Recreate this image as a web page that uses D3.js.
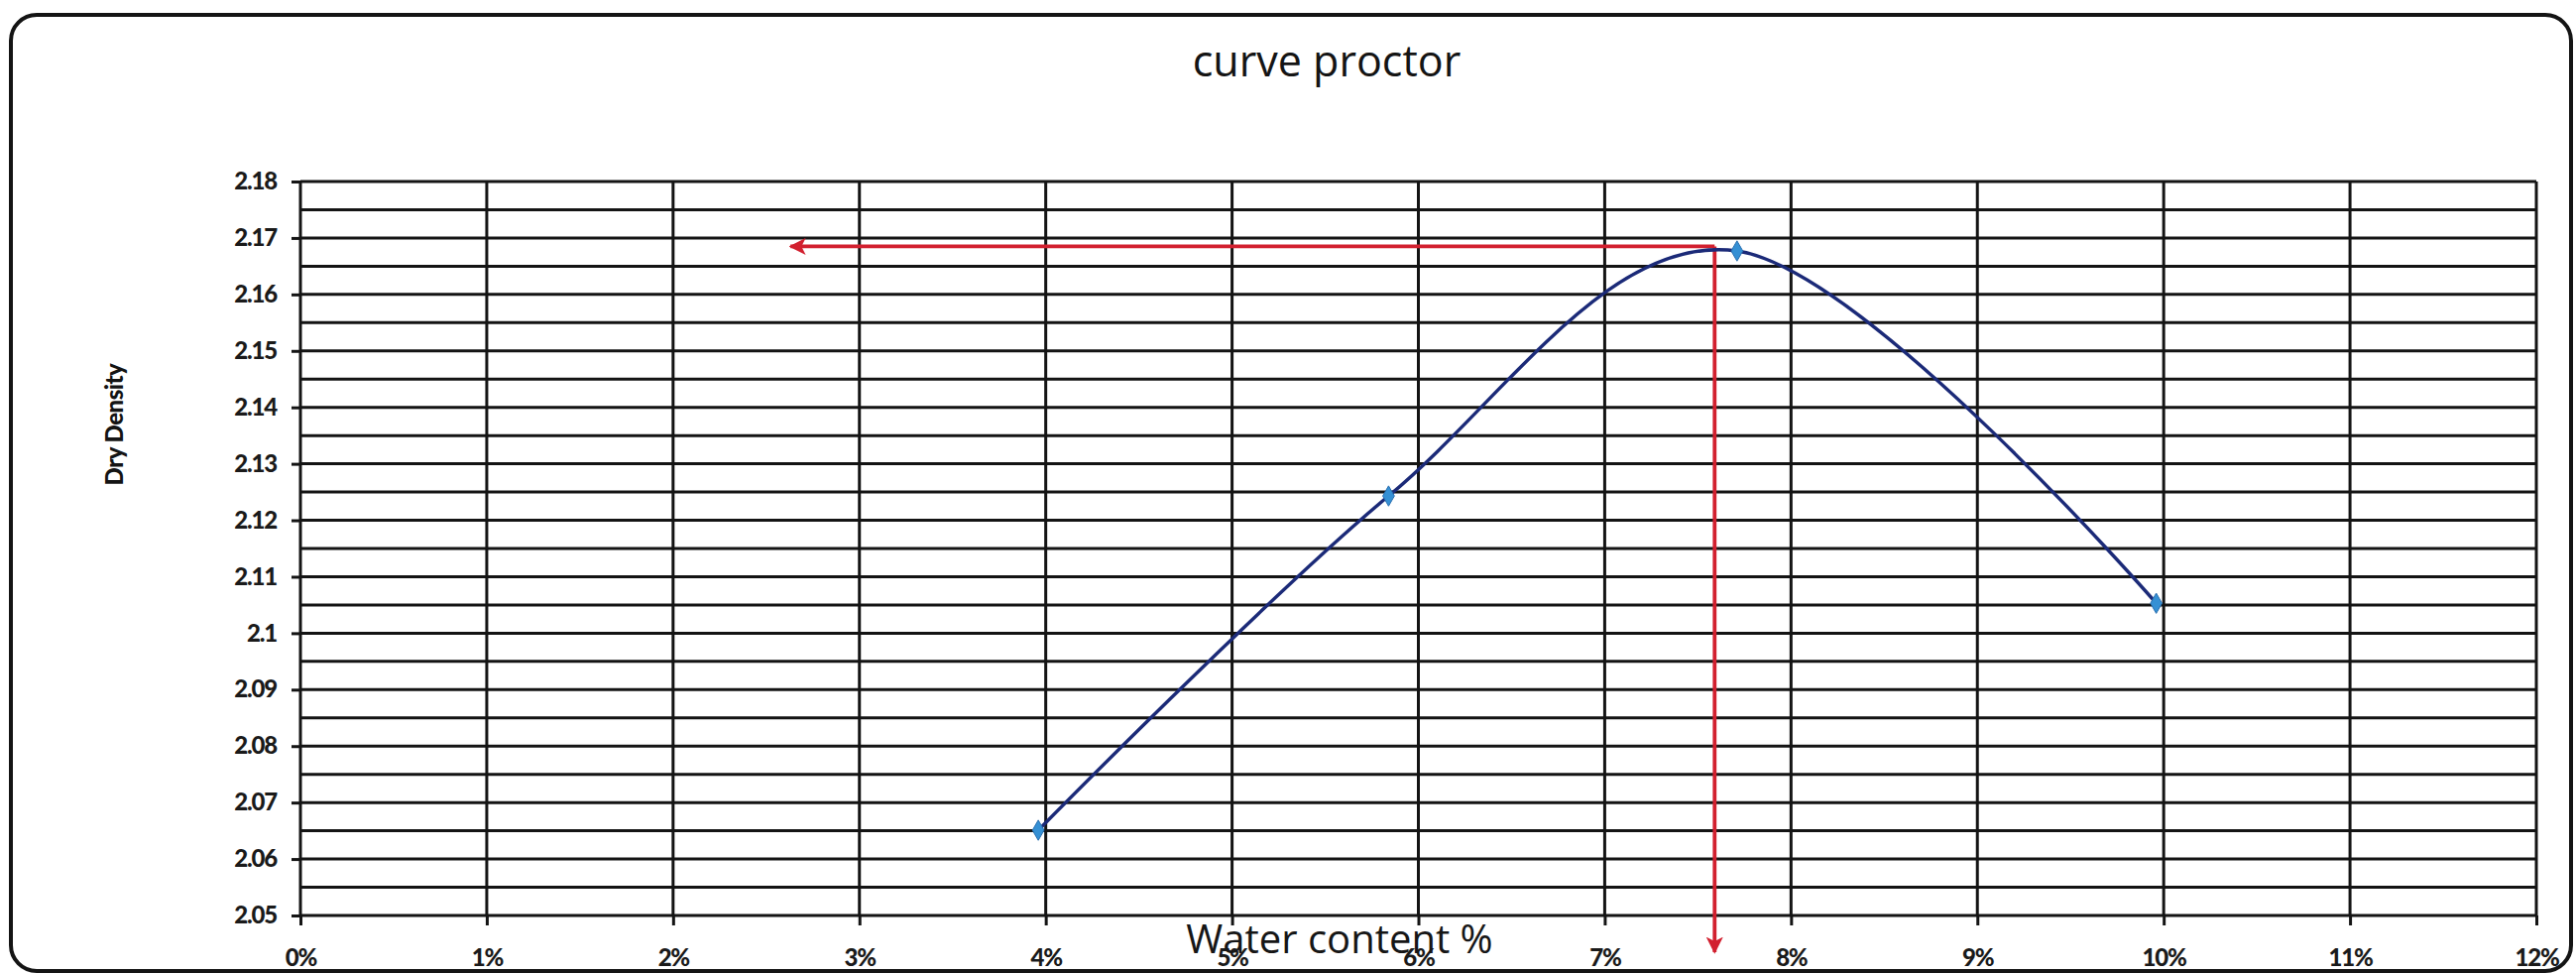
<!DOCTYPE html>
<html>
<head>
<meta charset="utf-8">
<script src="https://cdn.jsdelivr.net/npm/d3@7/dist/d3.min.js"></script>
<style>
  html, body { margin: 0; padding: 0; background: #fff; }
  svg { display: block; }
</style>
</head>
<body>
<svg id="chart" width="2598" height="982"></svg>
<script>
// ---- data ----
const waterContent = [3.96, 5.84, 7.71, 9.96];          // %
const dryDensity   = [2.0651, 2.1243, 2.1677, 2.1053];   // g/cm3
const xTickValues  = [0, 1, 2, 3, 4, 5, 6, 7, 8, 9, 10, 11, 12];
const xTickLabels  = ["0%","1%","2%","3%","4%","5%","6%","7%","8%","9%","10%","11%","12%"];
const yTickValues  = [2.05, 2.06, 2.07, 2.08, 2.09, 2.10, 2.11, 2.12, 2.13, 2.14, 2.15, 2.16, 2.17, 2.18];
const yTickLabels  = ["2.05","2.06","2.07","2.08","2.09","2.1","2.11","2.12","2.13","2.14","2.15","2.16","2.17","2.18"];
const yMinorValues = [2.055, 2.065, 2.075, 2.085, 2.095, 2.105, 2.115, 2.125, 2.135, 2.145, 2.155, 2.165, 2.175];
// optimum read-off annotation (red arrows)
const optimumWater   = 7.59;
const optimumDensity = 2.1685;
const arrowLeftEnd   = 2.63;    // % (tip of horizontal arrow)
const arrowBottomEnd = 2.0435;  // density (tip of vertical arrow)

const titleText  = "curve proctor";
const xAxisTitle = "Water content %";
const yAxisTitle = "Dry Density";

// ---- layout ----
const svg = d3.select("#chart");
const plot = { left: 303, right: 2558, top: 183, bottom: 923 };

const x = d3.scaleLinear().domain([0, 12]).range([plot.left, plot.right]);
const y = d3.scaleLinear().domain([2.05, 2.18]).range([plot.bottom, plot.top]);

// outer rounded frame
svg.append("rect")
  .attr("x", 11).attr("y", 15)
  .attr("width", 2582).attr("height", 964)
  .attr("rx", 26).attr("ry", 26)
  .attr("fill", "#fff")
  .attr("stroke", "#141414")
  .attr("stroke-width", 4);

const gridColor = "#141414";
const gridW = 3;

// horizontal grid (major + minor)
svg.append("g").selectAll("line")
  .data(yTickValues.concat(yMinorValues))
  .join("line")
  .attr("x1", plot.left).attr("x2", plot.right)
  .attr("y1", d => y(d)).attr("y2", d => y(d))
  .attr("stroke", gridColor).attr("stroke-width", gridW);

// vertical grid
svg.append("g").selectAll("line")
  .data(xTickValues)
  .join("line")
  .attr("x1", d => x(d)).attr("x2", d => x(d))
  .attr("y1", plot.top).attr("y2", plot.bottom)
  .attr("stroke", gridColor).attr("stroke-width", gridW);

// axes (ticks + labels)
const labelFont = "Lato, 'Open Sans', sans-serif";

const yAxis = d3.axisLeft(y)
  .tickValues(yTickValues)
  .tickFormat((d, i) => yTickLabels[i])
  .tickSizeInner(9).tickSizeOuter(0).tickPadding(15);

const gy = svg.append("g")
  .attr("transform", `translate(${plot.left},0)`)
  .call(yAxis);
gy.select(".domain").remove();
gy.selectAll(".tick line").attr("stroke", gridColor).attr("stroke-width", gridW);
gy.selectAll(".tick text")
  .attr("fill", "#1a1a1a")
  .style("font-family", labelFont)
  .style("font-weight", "900")
  .style("font-size", "24px")
  .style("letter-spacing", "-1.2px");

const xAxis = d3.axisBottom(x)
  .tickValues(xTickValues)
  .tickFormat((d, i) => xTickLabels[i])
  .tickSizeInner(10).tickSizeOuter(0).tickPadding(24);

const gx = svg.append("g")
  .attr("transform", `translate(0,${plot.bottom})`)
  .call(xAxis);
gx.select(".domain").remove();
gx.selectAll(".tick line").attr("stroke", gridColor).attr("stroke-width", gridW);
gx.selectAll(".tick text")
  .attr("fill", "#1a1a1a")
  .style("font-family", labelFont)
  .style("font-weight", "900")
  .style("font-size", "24px")
  .style("letter-spacing", "-1.2px");

// title
svg.append("text")
  .attr("x", 1338).attr("y", 77)
  .attr("text-anchor", "middle")
  .attr("fill", "#141414")
  .style("font-family", "'Open Sans', sans-serif")
  .style("font-weight", "500")
  .style("font-size", "43px")
  .text(titleText);

// y axis title
svg.append("text")
  .attr("transform", "translate(124,428) rotate(-90)")
  .attr("text-anchor", "middle")
  .attr("fill", "#141414")
  .style("font-family", labelFont)
  .style("font-weight", "900")
  .style("font-size", "24px")
  .style("letter-spacing", "-0.5px")
  .text(yAxisTitle);

// red annotation arrows
const red = "#d2202f";
const defs = svg.append("defs");
defs.append("marker")
  .attr("id", "arrowRed")
  .attr("viewBox", "0 0 10 10")
  .attr("refX", 9).attr("refY", 5)
  .attr("markerWidth", 4.5).attr("markerHeight", 4.5)
  .attr("markerUnits", "strokeWidth")
  .attr("orient", "auto")
  .append("path")
  .attr("d", "M0,0 L10,5 L0,10 L2.5,5 Z")
  .attr("fill", red);

svg.append("line")
  .attr("x1", x(optimumWater)).attr("y1", y(optimumDensity))
  .attr("x2", x(arrowLeftEnd)).attr("y2", y(optimumDensity))
  .attr("stroke", red).attr("stroke-width", 3.8)
  .attr("marker-end", "url(#arrowRed)");

svg.append("line")
  .attr("x1", x(optimumWater)).attr("y1", y(optimumDensity))
  .attr("x2", x(optimumWater)).attr("y2", y(arrowBottomEnd))
  .attr("stroke", red).attr("stroke-width", 3.8)
  .attr("marker-end", "url(#arrowRed)");

// curve
const pts = waterContent.map((w, i) => [w, dryDensity[i]]);
const line = d3.line()
  .x(d => x(d[0])).y(d => y(d[1]))
  .curve(d3.curveCatmullRom.alpha(0));

svg.append("path")
  .datum(pts)
  .attr("d", line)
  .attr("fill", "none")
  .attr("stroke", "#1b2a78")
  .attr("stroke-width", 3.4);

// markers (diamonds)
svg.append("g").selectAll("path")
  .data(pts)
  .join("path")
  .attr("transform", d => `translate(${x(d[0])},${y(d[1])})`)
  .attr("d", d3.symbol(d3.symbolDiamond, 120))
  .attr("fill", "#3590d4")
  .attr("stroke", "#2a6fb0")
  .attr("stroke-width", 1);

// x axis title (drawn over tick labels as in the original)
svg.append("text")
  .attr("x", 1351).attr("y", 961)
  .attr("text-anchor", "middle")
  .attr("fill", "#161616")
  .style("font-family", "'Open Sans', sans-serif")
  .style("font-weight", "500")
  .style("font-size", "40px")
  .text(xAxisTitle);
</script>
</body>
</html>
